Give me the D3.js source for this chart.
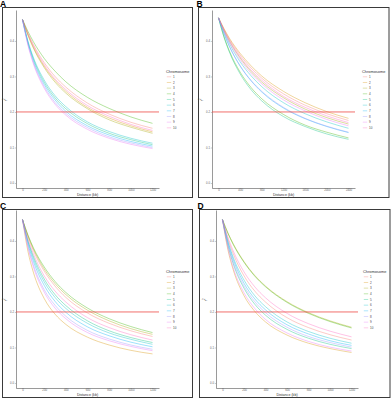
<!DOCTYPE html>
<html>
<head>
<meta charset="utf-8">
<script src="https://cdn.jsdelivr.net/npm/d3@7"></script>
<style>
  body { margin: 0; background: #fff; }
  text { font-family: "Liberation Sans", Arial, sans-serif; }
</style>
</head>
<body>
<div id="chart"></div>
<script>
// chromosomes + ggplot default hue palette
var chromosomes = ['1', '2', '3', '4', '5', '6', '7', '8', '9', '10'];
var chrColors = ['#F8766D', '#D89000', '#A3A500', '#39B600', '#00BF7D',
                 '#00BFC4', '#00B0F6', '#9590FF', '#E76BF3', '#FF62BC'];

var distShort = [0, 50, 100, 200, 300, 400, 600, 800, 1000, 1200];
var distLong = [0, 100, 200, 400, 600, 800, 1200, 1600, 2000, 2400];
var ticksShort = [0, 200, 400, 600, 800, 1000, 1200];
var ticksLong = [0, 400, 800, 1200, 1600, 2000, 2400];
var yTicks = [0, 0.1, 0.2, 0.3, 0.4];
var threshold = 0.2;

// r2 per chromosome (1..10), panel A
var r2A = [
  [.46, .422, .390, .339, .300, .270, .225, .194, .171, .154],
  [.46, .418, .383, .329, .289, .258, .213, .183, .161, .144],
  [.46, .416, .380, .325, .284, .253, .209, .178, .157, .140],
  [.46, .427, .398, .351, .315, .285, .241, .210, .186, .168],
  [.46, .397, .350, .284, .240, .209, .167, .140, .122, .108],
  [.46, .400, .354, .290, .246, .215, .172, .145, .126, .112],
  [.46, .394, .345, .278, .234, .202, .161, .135, .117, .104],
  [.46, .391, .340, .272, .227, .196, .156, .130, .113, .100],
  [.46, .388, .336, .267, .222, .191, .151, .126, .109, .097],
  [.46, .419, .386, .333, .293, .263, .218, .188, .165, .148]
];
// panel B
var r2B = [
  [.465, .433, .405, .360, .324, .295, .251, .219, .195, .176],
  [.465, .435, .408, .365, .330, .301, .258, .226, .201, .182],
  [.465, .430, .400, .352, .314, .284, .240, .208, .184, .166],
  [.465, .413, .372, .312, .269, .237, .193, .163, .143, .127],
  [.465, .411, .369, .307, .263, .231, .187, .159, .138, .123],
  [.465, .426, .393, .341, .302, .271, .226, .195, .172, .154],
  [.465, .421, .385, .329, .288, .256, .211, .181, .159, .142],
  [.465, .421, .385, .330, .289, .258, .213, .182, .160, .143],
  [.465, .428, .397, .347, .309, .279, .234, .203, .179, .161],
  [.465, .431, .402, .355, .318, .289, .244, .213, .189, .170]
];
// panel C
var r2C = [
  [.46, .412, .373, .315, .273, .241, .197, .168, .147, .131],
  [.46, .371, .312, .238, .194, .165, .129, .107, .092, .082],
  [.46, .415, .378, .321, .280, .249, .205, .175, .153, .137],
  [.46, .417, .381, .327, .286, .255, .211, .181, .159, .142],
  [.46, .401, .357, .293, .249, .218, .175, .147, .128, .114],
  [.46, .398, .351, .285, .241, .210, .168, .141, .123, .109],
  [.46, .392, .343, .275, .230, .199, .158, .133, .115, .102],
  [.46, .386, .333, .263, .219, .188, .148, .124, .107, .095],
  [.46, .382, .327, .256, .211, .181, .142, .119, .103, .091],
  [.46, .406, .364, .302, .259, .228, .184, .156, .136, .121]
];
// panel D
var r2D = [
  [.46, .406, .364, .302, .259, .228, .184, .156, .136, .121],
  [.46, .376, .319, .246, .202, .172, .135, .112, .097, .086],
  [.46, .423, .392, .342, .303, .273, .229, .198, .175, .157],
  [.46, .422, .390, .340, .301, .271, .227, .196, .173, .155],
  [.46, .388, .336, .267, .222, .191, .151, .126, .109, .097],
  [.46, .400, .354, .290, .246, .215, .172, .145, .126, .112],
  [.46, .396, .348, .281, .237, .206, .164, .138, .119, .106],
  [.46, .391, .341, .273, .229, .198, .157, .131, .114, .101],
  [.46, .381, .325, .254, .210, .179, .141, .117, .101, .090],
  [.46, .411, .372, .313, .271, .240, .196, .167, .146, .130]
];

// layout of the 4 panels
var panels = [
  { label: 'A', data: r2A, dist: distShort, ticks: ticksShort, xmax: 1200,
    box: [2.5, 7.5, 190, 190], lab: [0, 6.5], left: 16, right: 159, dy: 0, legX: 166 },
  { label: 'B', data: r2B, dist: distLong, ticks: ticksLong, xmax: 2400,
    box: [198.5, 7.5, 190.5, 190], lab: [196.5, 6.5], left: 212, right: 355, dy: 0, legX: 362 },
  { label: 'C', data: r2C, dist: distShort, ticks: ticksShort, xmax: 1200,
    box: [2.5, 209.5, 190, 188], lab: [0, 208.5], left: 16, right: 159, dy: 200, legX: 166 },
  { label: 'D', data: r2D, dist: distShort, ticks: ticksShort, xmax: 1200,
    box: [199.5, 209.5, 190.5, 188], lab: [197.5, 208.5], left: 216, right: 358, dy: 200, legX: 363 }
];

var svg = d3.select('#chart').append('svg')
    .attr('width', 392)
    .attr('height', 401);

panels.forEach(function(p) {
    var g = svg.append('g');

    // panel frame
    g.append('rect')
        .attr('x', p.box[0]).attr('y', p.box[1])
        .attr('width', p.box[2]).attr('height', p.box[3])
        .attr('fill', 'none')
        .attr('stroke', '#3a3a3a')
        .attr('stroke-width', 1);

    // panel letter
    g.append('text')
        .attr('x', p.lab[0]).attr('y', p.lab[1])
        .text(p.label)
        .style('font-weight', 'bold')
        .style('font-size', '8.5px')
        .style('fill', '#000');

    var xScale = d3.scaleLinear()
        .domain([-p.xmax * 0.05, p.xmax * 1.05])
        .range([p.left, p.right]);
    var yScale = d3.scaleLinear()
        .domain([-0.014, 0.487])
        .range([188 + p.dy, 10 + p.dy]);

    // x axis
    var xAxis = d3.axisBottom(xScale)
        .tickValues(p.ticks)
        .tickSize(1)
        .tickSizeOuter(0)
        .tickPadding(0.3)
        .tickFormat(d3.format('d'));
    var gx = g.append('g')
        .attr('transform', 'translate(0,' + (188 + p.dy) + ')')
        .call(xAxis);

    // y axis
    var yAxis = d3.axisLeft(yScale)
        .tickValues(yTicks)
        .tickSize(1.2)
        .tickSizeOuter(0)
        .tickPadding(0.8)
        .tickFormat(d3.format('.1f'));
    var gy = g.append('g')
        .attr('transform', 'translate(' + p.left + ',0)')
        .call(yAxis);

    [gx, gy].forEach(function(ax) {
        ax.select('.domain').attr('stroke', '#555').attr('stroke-width', 0.6);
        ax.selectAll('.tick line').attr('stroke', '#777').attr('stroke-width', 0.4);
        ax.selectAll('.tick text')
            .style('font-size', '2.8px')
            .style('fill', '#666')
            .style('font-family', '"Liberation Sans", Arial, sans-serif');
    });

    // axis titles
    g.append('text')
        .attr('x', (p.left + p.right) / 2)
        .attr('y', 195.6 + p.dy)
        .attr('text-anchor', 'middle')
        .text('Distance (kb)')
        .style('font-size', '3.6px')
        .style('fill', '#333');

    var yt = g.append('text')
        .attr('transform', 'translate(' + (p.left - 9.5) + ',' + (100 + p.dy) + ') rotate(-90)')
        .attr('text-anchor', 'middle')
        .style('font-size', '3.8px')
        .style('fill', '#333');
    yt.append('tspan').text('r');
    yt.append('tspan').attr('dy', -1.2).style('font-size', '2.6px').text('2');

    // decay curves
    var line = d3.line()
        .x(function(d, i) { return xScale(p.dist[i]); })
        .y(function(d) { return yScale(d); })
        .curve(d3.curveMonotoneX);

    g.append('g')
        .selectAll('path')
        .data(p.data)
        .join('path')
        .attr('d', line)
        .attr('fill', 'none')
        .attr('stroke', function(d, i) { return chrColors[i]; })
        .attr('stroke-width', 0.7)
        .attr('stroke-opacity', 0.55);

    // r2 = 0.2 reference line
    g.append('line')
        .attr('x1', p.left).attr('x2', p.right)
        .attr('y1', yScale(threshold)).attr('y2', yScale(threshold))
        .attr('stroke', '#EE4B45')
        .attr('stroke-width', 0.8);

    // legend
    var lg = g.append('g');
    lg.append('text')
        .attr('x', p.legX).attr('y', 72.5 + p.dy)
        .text('Chromosome')
        .style('font-size', '3.9px')
        .style('fill', '#333');

    lg.selectAll('line.key')
        .data(chromosomes)
        .join('line')
        .attr('class', 'key')
        .attr('x1', p.legX + 0.8).attr('x2', p.legX + 5.2)
        .attr('y1', function(d, i) { return 76.8 + i * 5.67 + p.dy; })
        .attr('y2', function(d, i) { return 76.8 + i * 5.67 + p.dy; })
        .attr('stroke', function(d, i) { return chrColors[i]; })
        .attr('stroke-width', 0.6)
        .attr('stroke-opacity', 0.55);

    lg.selectAll('text.lab')
        .data(chromosomes)
        .join('text')
        .attr('class', 'lab')
        .attr('x', p.legX + 7)
        .attr('y', function(d, i) { return 77.9 + i * 5.67 + p.dy; })
        .text(function(d) { return d; })
        .style('font-size', '3px')
        .style('fill', '#444');
});
</script>
</body>
</html>
